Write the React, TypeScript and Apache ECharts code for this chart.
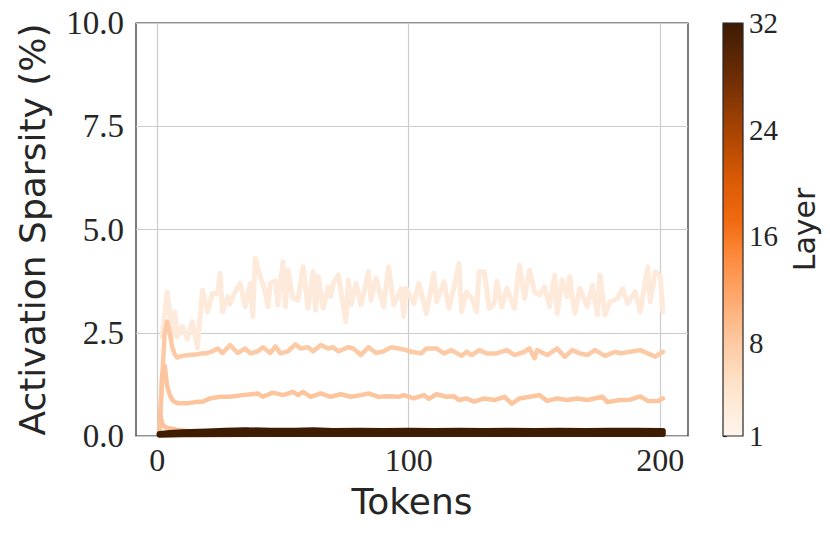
import React, { useEffect, useRef } from "react";
import * as echarts from "echarts";

// ---------- data ----------
const xTickValues = [0, 100, 200];
const layerTickValues = [1, 8, 16, 24, 32];

// [token, sparsity %]
const layer1Points: number[][] = [
  [2, 2.4], [4, 3.49], [5, 3.0], [6, 2.4], [7, 3.0], [8, 2.4], [10, 2.65], [12, 2.35], [14, 2.77], [16, 2.13],
  [18, 3.53], [20, 3.0], [22, 3.45], [24, 3.45], [25, 3.94], [26, 3.0], [28, 3.37], [29, 3.2], [31, 3.49], [33, 3.7],
  [35, 3.13], [37, 3.7], [38, 2.89], [39, 4.3], [41, 3.86], [43, 3.49], [44, 3.13], [45, 3.7], [47, 3.75], [48, 3.17],
  [50, 4.22], [51, 3.13], [52, 4.02], [54, 3.33], [56, 3.29], [58, 4.1], [60, 3.1], [62, 3.98], [63, 3.05], [64, 3.86],
  [66, 3.1], [68, 3.61], [69, 3.37], [70, 3.7], [72, 3.9], [75, 2.77], [76, 3.78], [77, 3.17], [79, 3.7], [81, 3.17],
  [84, 3.98], [85, 3.29], [87, 3.82], [90, 3.13], [92, 4.1], [94, 3.17], [97, 3.57], [98, 2.89], [99, 3.57], [102, 3.21],
  [104, 3.7], [107, 2.97], [110, 3.94], [111, 3.25], [114, 3.74], [116, 3.09], [118, 3.61], [120, 4.18], [121, 3.01], [123, 3.49],
  [125, 3.33], [127, 3.01], [128, 3.98], [130, 3.98], [132, 3.09], [134, 3.21], [135, 3.74], [137, 3.13], [139, 3.57], [142, 3.09],
  [144, 4.14], [146, 3.33], [148, 4.02], [150, 3.49], [152, 3.41], [154, 3.61], [156, 3.13], [158, 3.9], [159, 2.97], [161, 3.78],
  [163, 3.37], [164, 3.86], [166, 2.97], [168, 3.57], [171, 3.13], [173, 3.65], [175, 2.93], [176, 3.9], [178, 2.93], [180, 3.25],
  [183, 3.33], [185, 3.57], [187, 3.21], [190, 3.49], [192, 3.01], [195, 4.1], [196, 3.25], [198, 3.98], [200, 3.86], [201, 3.01],
];

const layer2Points: number[][] = [
  [1, 0.2], [2, 1.4], [3, 2.5], [4, 2.77], [5, 2.5], [6, 2.15], [7, 1.98], [8, 1.9], [10, 1.94], [13, 1.96],
  [16, 1.98], [18, 2.0], [20, 2.01], [22, 2.05], [24, 2.12], [26, 2.01], [29, 2.2], [32, 2.01], [35, 2.12], [37, 2.0],
  [40, 2.05], [42, 2.15], [45, 2.01], [47, 2.17], [49, 2.0], [52, 2.05], [55, 2.22], [57, 2.12], [60, 2.15], [62, 2.05],
  [65, 2.2], [68, 2.12], [70, 2.15], [72, 2.05], [76, 2.15], [78, 2.12], [81, 1.96], [84, 2.15], [87, 2.01], [90, 2.05],
  [93, 2.15], [96, 2.12], [99, 2.08], [101, 2.04], [105, 2.0], [107, 2.12], [111, 2.12], [114, 2.0], [117, 2.08], [121, 1.94],
  [123, 2.04], [125, 1.96], [128, 2.08], [131, 2.0], [135, 2.0], [139, 2.08], [142, 1.96], [146, 2.04], [148, 2.12], [150, 1.88],
  [151, 2.08], [155, 1.96], [159, 2.12], [162, 1.92], [165, 2.08], [168, 2.0], [171, 1.96], [174, 2.08], [178, 1.94], [182, 2.04],
  [184, 2.0], [188, 2.04], [192, 2.08], [195, 2.0], [198, 1.92], [201, 2.04],
];

const layer3Points: number[][] = [
  [1, 0.15], [2, 1.5], [3, 1.7], [4, 1.2], [5, 1.0], [6, 0.87], [8, 0.79], [12, 0.79], [16, 0.83], [18, 0.83],
  [21, 0.91], [25, 0.95], [29, 0.95], [34, 0.99], [40, 1.03], [42, 0.95], [46, 1.05], [50, 0.99], [54, 1.07], [56, 0.99],
  [58, 1.07], [61, 0.95], [65, 1.03], [69, 0.95], [73, 1.01], [77, 0.95], [81, 0.99], [84, 1.03], [88, 0.95], [92, 0.96],
  [96, 0.95], [98, 0.99], [102, 0.91], [106, 0.99], [108, 0.9], [111, 1.01], [115, 0.95], [118, 0.96], [120, 0.87], [123, 0.91],
  [126, 0.83], [130, 0.91], [134, 0.87], [138, 0.95], [141, 0.78], [144, 0.91], [148, 0.95], [152, 0.99], [155, 0.85], [159, 0.91],
  [163, 0.87], [167, 0.91], [171, 0.87], [177, 0.95], [179, 0.82], [184, 0.87], [188, 0.88], [192, 0.96], [195, 0.85], [199, 0.85],
  [201, 0.91],
];

const layer4Points: number[][] = [
  [1, 0.55], [2, 0.3], [3, 0.22], [5, 0.18], [8, 0.15], [12, 0.12], [20, 0.1], [40, 0.09], [80, 0.08], [120, 0.08],
  [160, 0.08], [201, 0.08],
];

const layer30Points: number[][] = [
  [1, 0.03], [10, 0.04], [40, 0.05], [80, 0.05], [120, 0.05], [160, 0.05], [201, 0.05],
];

const layer32Points: number[][] = [
  [1, 0.05], [5, 0.07], [10, 0.09], [20, 0.11], [27, 0.13], [35, 0.14], [45, 0.13], [55, 0.13], [62, 0.14], [70, 0.12],
  [80, 0.13], [90, 0.12], [100, 0.13], [110, 0.12], [120, 0.13], [130, 0.12], [140, 0.13], [150, 0.12], [160, 0.13], [170, 0.12],
  [180, 0.13], [190, 0.13], [201, 0.12],
];

// colormap stops (fraction of 1..32 range -> colour)
const cmapStops: [number, string][] = [
  [0.0, "#fff5eb"],
  [0.12, "#fee4cb"],
  [0.23, "#fdc8a0"],
  [0.35, "#fda466"],
  [0.45, "#fb8535"],
  [0.52, "#f06a10"],
  [0.62, "#da5a06"],
  [0.74, "#a84404"],
  [0.87, "#6c2d05"],
  [1.0, "#3d1b04"],
];

// ---------- styling ----------
const seriesStyles = [
  { name: "Layer 1", data: layer1Points, color: "#feeadb", width: 5 },
  { name: "Layer 2", data: layer2Points, color: "#fdcaa6", width: 4.5 },
  { name: "Layer 3", data: layer3Points, color: "#fdc59d", width: 4.5 },
  { name: "Layer 4", data: layer4Points, color: "#fdc09a", width: 4.5 },
  { name: "Layer 30", data: layer30Points, color: "#3f1d03", width: 6 },
  { name: "Layer 32", data: layer32Points, color: "#3d1c02", width: 6 },
];

const INK = "#262626";
const SERIF = "'Liberation Serif', 'DejaVu Serif', serif";
const SANS = "'DejaVu Sans', sans-serif";

export default function App() {
  const ref = useRef<HTMLDivElement>(null);

  useEffect(() => {
    if (!ref.current) return;
    const chart = echarts.init(ref.current, undefined, { renderer: "svg" });

    const gradient = new echarts.graphic.LinearGradient(
      0, 1, 0, 0,
      cmapStops.map(([offset, color]) => ({ offset, color }))
    );

    const option: any = {
      animation: false,
      backgroundColor: "#ffffff",
      grid: [
        {
          left: 136, top: 23, width: 552, height: 413,
          show: true, borderColor: INK, borderWidth: 1.2, backgroundColor: "transparent",
          containLabel: false, outerBoundsMode: "none",
        },
        {
          left: 723, top: 23, width: 20, height: 413,
          show: false, containLabel: false, outerBoundsMode: "none",
        },
      ],
      xAxis: [
        {
          gridIndex: 0, type: "value", min: -8.4, max: 211,
          name: "Tokens", nameLocation: "middle", nameGap: 47,
          nameTextStyle: { fontFamily: SANS, fontSize: 36, color: INK },
          axisLine: { show: false },
          axisTick: { show: false, customValues: xTickValues },
          axisLabel: {
            customValues: xTickValues, fontFamily: SERIF, fontSize: 32, color: INK, margin: 8,
            formatter: (v: number) => String(v),
          },
          splitLine: { show: true, lineStyle: { color: "#cccccc", width: 1.2 } },
        },
        {
          gridIndex: 1, type: "value", min: 0, max: 1, show: false,
        },
      ],
      yAxis: [
        {
          gridIndex: 0, type: "value", min: 0, max: 10, interval: 2.5,
          name: "Activation Sparsity (%)", nameLocation: "middle", nameGap: 86,
          nameTextStyle: { fontFamily: SANS, fontSize: 36, color: INK },
          axisLine: { show: false },
          axisTick: { show: false },
          axisLabel: {
            fontFamily: SERIF, fontSize: 33, color: INK, margin: 12,
            formatter: (v: number) => v.toFixed(1),
          },
          splitLine: { show: true, lineStyle: { color: "#cccccc", width: 1.2 } },
        },
        {
          gridIndex: 1, type: "value", min: 1, max: 32, position: "right",
          name: "Layer", nameLocation: "middle", nameGap: 46,
          nameTextStyle: { fontFamily: SANS, fontSize: 30, color: INK },
          axisLine: { show: false },
          axisTick: { show: true, length: 4, customValues: layerTickValues, lineStyle: { color: INK, width: 1.2 } },
          axisLabel: {
            customValues: layerTickValues, fontFamily: SERIF, fontSize: 29, color: INK, margin: 6,
          },
          splitLine: { show: false },
        },
      ],
      series: [
        ...seriesStyles.map((s) => ({
          type: "line",
          name: s.name,
          xAxisIndex: 0,
          yAxisIndex: 0,
          data: s.data,
          showSymbol: false,
          symbol: "none",
          lineStyle: { color: s.color, width: s.width, cap: "round", join: "round" },
          itemStyle: { color: s.color },
          clip: true,
          silent: true,
        })),
        {
          type: "custom",
          name: "colorbar",
          xAxisIndex: 1,
          yAxisIndex: 1,
          data: [[0, 1, 1, 32]],
          silent: true,
          renderItem: (_params: any, api: any) => {
            const p0 = api.coord([api.value(0), api.value(1)]);
            const p1 = api.coord([api.value(2), api.value(3)]);
            return {
              type: "rect",
              shape: { x: p0[0], y: p1[1], width: p1[0] - p0[0], height: p0[1] - p1[1] },
              style: { fill: gradient, stroke: INK, lineWidth: 1.2 },
            };
          },
        },
      ],
    };

    chart.setOption(option);
    return () => chart.dispose();
  }, []);

  return (
    <div
      ref={ref}
      style={{ position: "fixed", left: 0, top: 0, width: 830, height: 539, background: "#fff" }}
    />
  );
}
